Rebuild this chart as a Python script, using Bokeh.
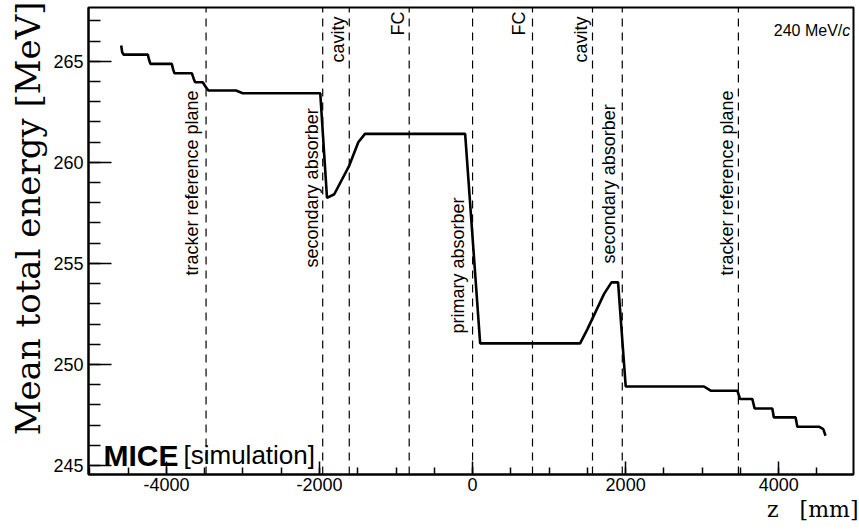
import numpy as np
from bokeh.plotting import figure
from bokeh.models import Range1d, SingleIntervalTicker, Label, NumeralTickFormatter, Title
from bokeh.core.properties import value
from bokeh.embed import file_html
from bokeh.resources import INLINE

# ---- data ----
z_mm = [-4591, -4578, -4560, -4243, -4225, -4209, -3930, -3912, -3896, -3668, -3645,
        -3625, -3525, -3490, -3452, -3090, -3003, -1990, -1902, -1807, -1611, -1493,
        -1406, -97, 99, 1405, 1501, 1718, 1815, 1901, 2001, 3023, 3111, 3460, 3494,
        3655, 3685, 3916, 3937, 4221, 4243, 4525, 4582, 4612]
energy_mev = [265.78, 265.45, 265.33, 265.33, 265.05, 264.87, 264.87, 264.60, 264.41,
              264.41, 264.15, 263.96, 263.96, 263.75, 263.55, 263.55, 263.42, 263.42,
              258.24, 258.42, 259.84, 260.99, 261.41, 261.41, 251.04, 251.04, 251.75,
              253.49, 254.06, 254.06, 248.91, 248.91, 248.70, 248.70, 248.29, 248.29,
              247.82, 247.82, 247.38, 247.38, 246.92, 246.92, 246.80, 246.47]

marker_z = [-3482, -1958, -1611, -828, 0, 783, 1567, 1956, 3473]
marker_names = ["tracker reference plane", "secondary absorber", "cavity", "FC",
                "primary absorber", "FC", "cavity", "secondary absorber",
                "tracker reference plane"]
# anchor of each element label (text centre line, start of text)
label_z = [-3666, -2104, -1752, -968, -184, 613, 1417, 1782, 3318]
label_e = [254.40, 254.80, 264.94, 266.27, 251.53, 266.27, 264.94, 255.00, 254.40]

x_title = "z\u00a0\u00a0\u00a0[mm]"
y_title = "Mean total energy\u00a0[MeV]"

x_tick_interval = 2000
y_tick_interval = 5
x_lo, x_hi = -5018, 4977
y_lo, y_hi = 244.555, 267.66

p = figure(width=859, height=531, output_backend="svg", toolbar_location=None,
           x_range=Range1d(x_lo, x_hi), y_range=Range1d(y_lo, y_hi),
           min_border_left=88, min_border_right=6, min_border_top=7, min_border_bottom=57)
p.background_fill_color = "white"
p.border_fill_color = "white"
p.outline_line_color = "black"
p.outline_line_width = 2
p.grid.visible = False

xa = p.xaxis[0]
ya = p.yaxis[0]
xa.ticker = SingleIntervalTicker(interval=x_tick_interval, num_minor_ticks=4)
ya.ticker = SingleIntervalTicker(interval=y_tick_interval, num_minor_ticks=5)
xa.formatter = NumeralTickFormatter(format="0")
for ax, maj, mnr in ((xa, 13, 7), (ya, 23, 12)):
    ax.major_tick_in = maj
    ax.major_tick_out = 0
    ax.minor_tick_in = mnr
    ax.minor_tick_out = 0
    ax.major_tick_line_width = 1.5
    ax.minor_tick_line_width = 1.5
    ax.major_tick_line_color = "black"
    ax.minor_tick_line_color = "black"
    ax.axis_line_width = 2
    ax.axis_line_color = "black"
    ax.major_label_text_font = "Liberation Sans"
    ax.major_label_text_font_size = "18px"
    ax.major_label_text_color = "black"
xa.major_label_standoff = 3
ya.major_label_standoff = 5

# axis titles, ROOT style: aligned to the end of each axis
ty = Title(text=y_title, align="right", offset=-6, text_font="DejaVu Serif",
           text_font_size="34px", text_font_style="normal", text_color="black")
tx = Title(text=x_title, align="right", offset=-5, text_font="DejaVu Serif",
           text_font_size="22px", text_font_style="normal", text_color="black")
if "standoff" in ty.properties():
    ty.standoff = 6
    tx.standoff = 2
p.add_layout(ty, "left")
p.add_layout(tx, "below")

# dashed element markers
n = len(marker_z)
p.segment(x0=marker_z, y0=[y_lo] * n, x1=marker_z, y1=[y_hi] * n,
          line_color="black", line_width=1.2, line_dash="8 6")

p.text(x=label_z, y=label_e, text=marker_names, angle=np.pi / 2,
       text_font=value("Liberation Sans"), text_font_size="18px",
       text_align="left", text_baseline="alphabetic", text_color="black")

# energy curve
p.line(z_mm, energy_mev, line_color="black", line_width=2.6)

p.add_layout(Label(x=-4822, y=245.50, text="MICE", text_font="Liberation Sans",
                   text_font_style="bold", text_font_size="30px", text_color="black",
                   text_baseline="alphabetic"))
p.add_layout(Label(x=-3777, y=245.50, text="[simulation]", text_font="Liberation Sans",
                   text_font_size="26px", text_color="black", text_baseline="alphabetic"))
p.add_layout(Label(x=4830, y=266.52, text="240 MeV/", text_font="Liberation Sans",
                   text_font_size="16px", text_color="black", text_align="right",
                   text_baseline="alphabetic"))
p.add_layout(Label(x=4830, y=266.52, text="c", text_font="Liberation Sans",
                   text_font_style="italic", text_font_size="16px", text_color="black",
                   text_align="left", text_baseline="alphabetic"))

open("out.html", "w").write(file_html(p, INLINE))
